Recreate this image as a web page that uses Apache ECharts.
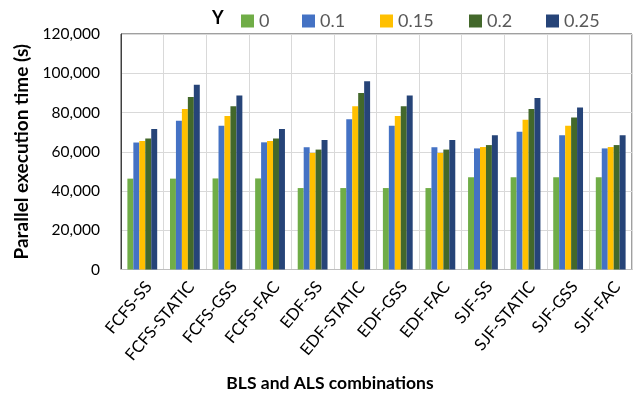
<!DOCTYPE html>
<html><head><meta charset="utf-8">
<script src="https://cdn.jsdelivr.net/npm/echarts@6/dist/echarts.min.js"></script>
<style>html,body{margin:0;padding:0;background:#fff}#c{width:643px;height:403px}</style>
</head><body><div id="c"></div>
<script>
const categories = ['FCFS-SS','FCFS-STATIC','FCFS-GSS','FCFS-FAC','EDF-SS','EDF-STATIC','EDF-GSS','EDF-FAC','SJF-SS','SJF-STATIC','SJF-GSS','SJF-FAC'];
const seriesNames = ['0','0.1','0.15','0.2','0.25'];
const y0    = [46300, 46300, 46400, 46400, 41500, 41500, 41500, 41500, 47000, 47000, 47000, 47000];
const y010  = [64700, 75800, 73300, 64800, 62300, 76500, 73300, 62300, 61700, 70200, 68400, 61700];
const y015  = [65500, 81800, 78200, 65500, 59400, 83200, 78200, 59400, 62400, 76300, 73300, 62400];
const y020  = [66700, 87900, 83200, 66700, 61100, 89900, 83200, 61100, 63400, 81800, 77500, 63400];
const y025  = [71600, 94200, 88600, 71600, 66000, 95900, 88600, 66000, 68400, 87400, 82500, 68400];
const yTicks = [0, 20000, 40000, 60000, 80000, 100000, 120000];
const colors = ['#70AD47','#4472C4','#FFC000','#43682B','#264478'];
const allValues = [y0, y010, y015, y020, y025];
const legendLeft = [241, 302, 380, 469, 546];

const font = 'Lato, "Open Sans", sans-serif';
const chart = echarts.init(document.getElementById('c'));
chart.setOption({
  animation: false,
  textStyle: {fontFamily: font},
  grid: {left: 121, right: 11, top: 34, bottom: 133.5, show: true, borderColor: '#404040', borderWidth: 1},
  legend: seriesNames.map((n, i) => ({
    top: 12, left: legendLeft[i],
    itemWidth: 13, itemHeight: 13, padding: 0,
    icon: 'rect',
    textStyle: {fontSize: 18, color: '#595959', fontFamily: font},
    data: [n]
  })),
  graphic: [
    {type: 'text', x: 212, y: 18.5, style: {text: 'Y', fontSize: 18, fontWeight: 'bold', fill: '#000', fontFamily: font, verticalAlign: 'middle'}},
    {type: 'text', x: 330, y: 383, style: {text: 'BLS and ALS combinations', fontSize: 17.5, fontWeight: 'bold', fill: '#000', fontFamily: font, align: 'center', verticalAlign: 'middle'}}
  ],
  xAxis: {
    type: 'category', data: categories,
    axisLine: {lineStyle: {color: '#BFBFBF'}},
    axisTick: {show: false},
    splitLine: {show: true, interval: 0, lineStyle: {color: '#D9D9D9'}},
    axisLabel: {interval: 0, rotate: 50, fontSize: 16.5, color: '#000', margin: 22, fontFamily: font, padding: [0, -10, 0, 0]}
  },
  yAxis: {
    type: 'value', min: yTicks[0], max: yTicks[yTicks.length-1], interval: 20000,
    name: 'Parallel execution time (s)', nameLocation: 'middle', nameGap: 88,
    nameTextStyle: {fontSize: 19, fontWeight: 'bold', color: '#000', fontFamily: font},
    axisLine: {show: true, lineStyle: {color: '#404040'}},
    axisTick: {show: false},
    splitLine: {lineStyle: {color: '#D9D9D9'}},
    axisLabel: {fontSize: 15.5, color: '#000', margin: 21, fontFamily: font,
      formatter: v => v === 0 ? '0' : v.toLocaleString('en-US')}
  },
  series: seriesNames.map((n, i) => ({
    name: n, type: 'bar', data: allValues[i],
    itemStyle: {color: colors[i]},
    barGap: '0%', barCategoryGap: '30%'
  }))
});
</script></body></html>
